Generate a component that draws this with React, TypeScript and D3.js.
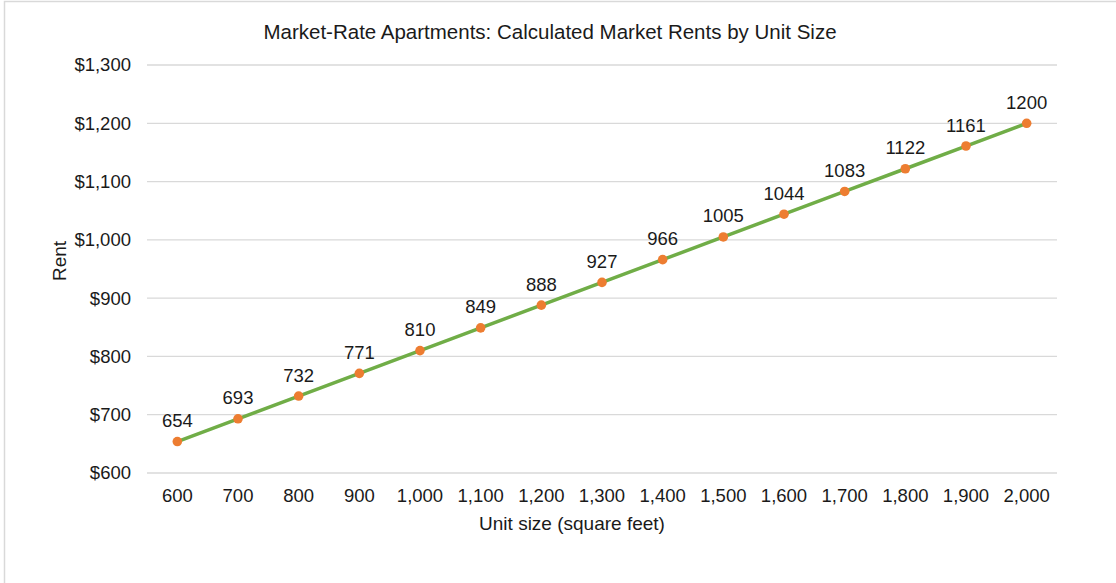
import React from "react";
import * as d3 from "d3";

const unitSizes = [600, 700, 800, 900, 1000, 1100, 1200, 1300, 1400, 1500, 1600, 1700, 1800, 1900, 2000];
const rents = [654, 693, 732, 771, 810, 849, 888, 927, 966, 1005, 1044, 1083, 1122, 1161, 1200];
const yTicks = [600, 700, 800, 900, 1000, 1100, 1200, 1300];
const title = "Market-Rate Apartments: Calculated Market Rents by Unit Size";
const xTitle = "Unit size (square feet)";
const yTitle = "Rent";

const W = 1116;
const H = 583;
const left = 147;
const right = 1057;
const top = 65;
const bottom = 473;
const FONT = "'Liberation Sans', Arial, sans-serif";
const TEXT = "#1a1a1a";

export default function App() {
  const x = d3.scaleBand<number>().domain(unitSizes).range([left, right]);
  const y = d3.scaleLinear().domain([600, 1300]).range([bottom, top]);
  const cx = (v: number) => (x(v) as number) + x.bandwidth() / 2;
  const pts = unitSizes.map((u, i) => ({ u, r: rents[i] }));
  const line = d3
    .line<{ u: number; r: number }>()
    .x((d) => cx(d.u))
    .y((d) => y(d.r));
  const fmtY = (v: number) => "$" + d3.format(",")(v);
  const fmtX = d3.format(",");

  return (
    <svg
      width={W}
      height={H}
      style={{ position: "absolute", left: 0, top: 0, background: "#fff" }}
      fontFamily={FONT}
    >
      <rect x={4.5} y={1.5} width={W + 10} height={H + 10} fill="#fff" stroke="#D9D9D9" strokeWidth={1.5} />
      <text x={550} y={39} textAnchor="middle" fontSize={20.5} fill={TEXT}>
        {title}
      </text>
      {yTicks.map((t) => (
        <g key={t}>
          <line x1={left} x2={right} y1={y(t)} y2={y(t)} stroke="#D9D9D9" strokeWidth={1.3} />
          <text x={131} y={y(t)} dy="0.35em" textAnchor="end" fontSize={18.5} fill={TEXT}>
            {fmtY(t)}
          </text>
        </g>
      ))}
      {unitSizes.map((u) => (
        <text key={u} x={cx(u)} y={501.5} textAnchor="middle" fontSize={18.5} fill={TEXT}>
          {fmtX(u)}
        </text>
      ))}
      <text x={572} y={529.5} textAnchor="middle" fontSize={19} fill={TEXT}>
        {xTitle}
      </text>
      <text
        transform={`translate(65.5, 261) rotate(-90)`}
        textAnchor="middle"
        fontSize={19}
        fill={TEXT}
      >
        {yTitle}
      </text>
      <path d={line(pts) || ""} fill="none" stroke="#70AD47" strokeWidth={3.5} strokeLinejoin="round" />
      {pts.map((p) => (
        <circle key={p.u} cx={cx(p.u)} cy={y(p.r)} r={4.8} fill="#ED7D31" />
      ))}
      {pts.map((p) => (
        <text key={"l" + p.u} x={cx(p.u)} y={y(p.r) - 14.5} textAnchor="middle" fontSize={18.5} fill={TEXT}>
          {p.r}
        </text>
      ))}
    </svg>
  );
}
